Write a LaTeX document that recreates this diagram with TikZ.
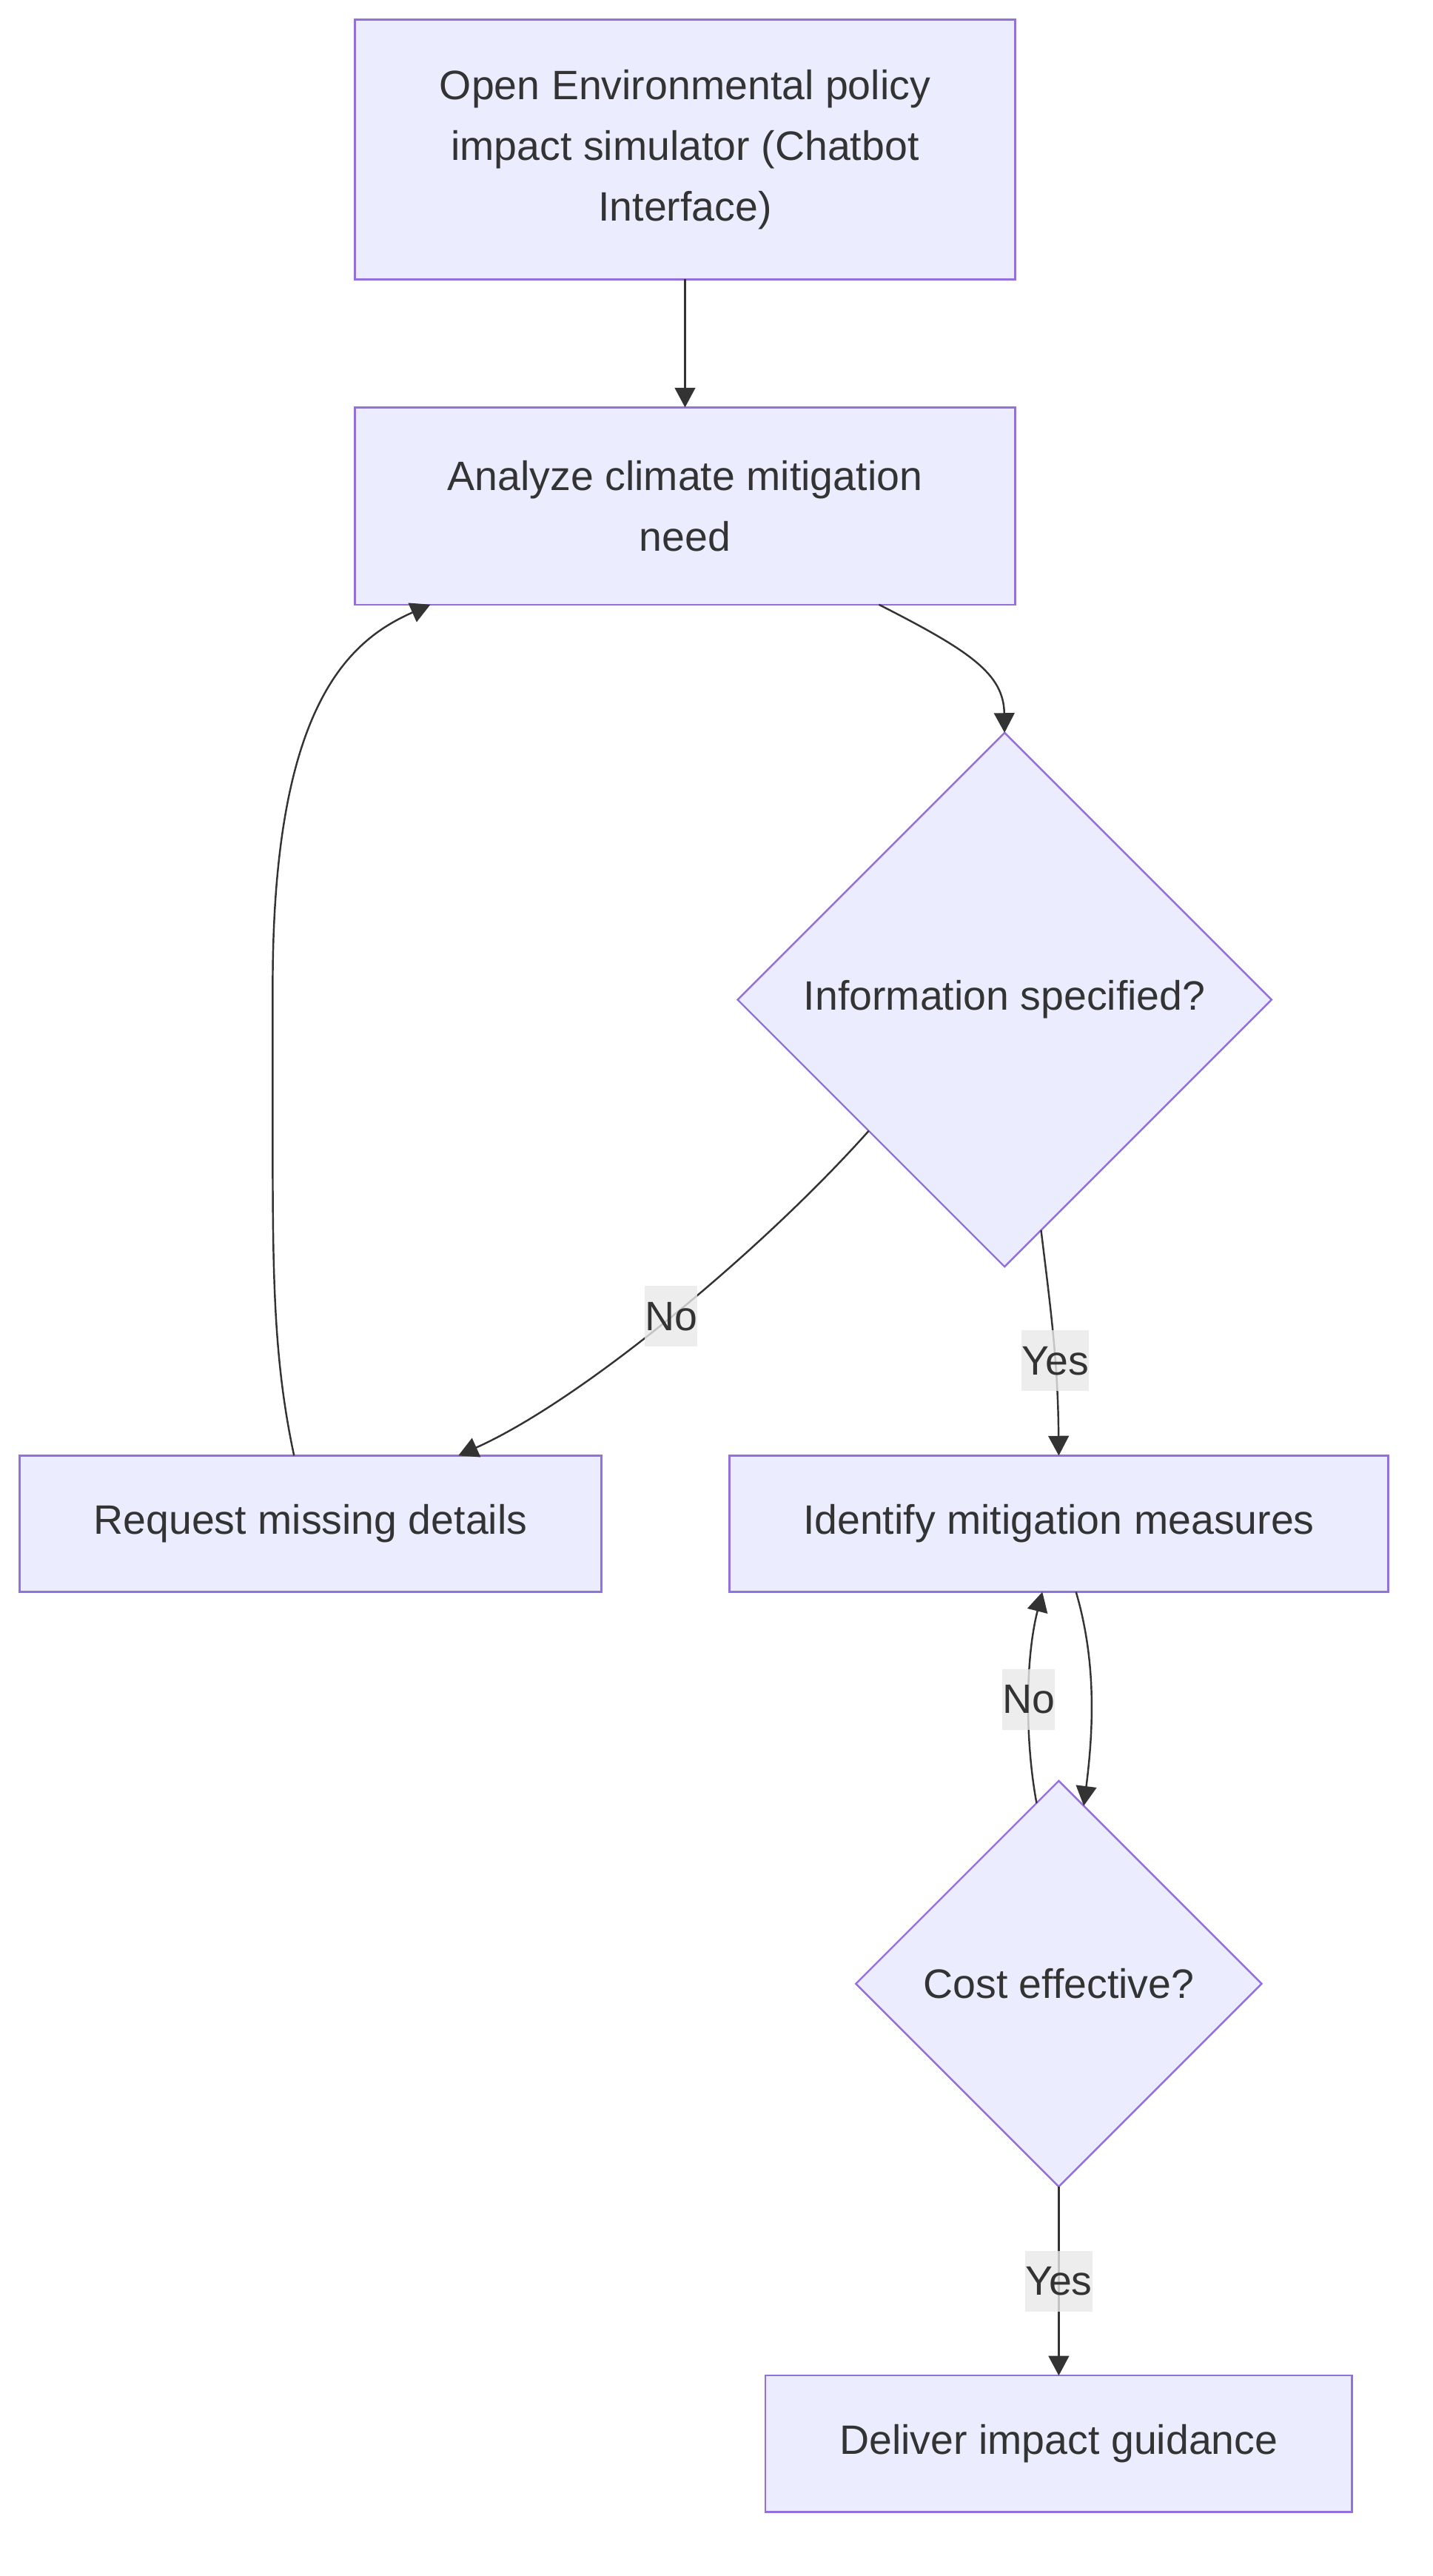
\documentclass[tikz,border=0pt]{standalone}
\usepackage{fontspec}
\setmainfont{Liberation Sans}
\usepackage{tikz}
\usetikzlibrary{shapes.geometric,arrows.meta,positioning}

\definecolor{nodefill}{HTML}{ECECFF}
\definecolor{nodeline}{HTML}{9370DB}
\definecolor{inkgray}{HTML}{333333}
\definecolor{lblgray}{HTML}{E8E8E8}

\begin{document}
\begin{tikzpicture}[
        x=1pt, y=-1pt,
        font=\fontsize{25}{37}\selectfont,
        box/.style={rectangle, draw=nodeline, fill=nodefill, line width=1.1pt, text=inkgray, outer sep=0pt, align=center},
        decision/.style={diamond, shape aspect=1, draw=nodeline, fill=nodefill, line width=1.1pt, text=inkgray, inner sep=0pt, outer sep=0pt},
        lbl/.style={fill=lblgray, fill opacity=0.8, text opacity=1, text=inkgray, inner xsep=0pt, inner ysep=0pt, minimum height=37pt},
        flow/.style={-{Triangle[length=12pt, width=12.5pt]}, draw=inkgray, line width=1.1pt}
    ]
    \useasboundingbox (0,0) rectangle (872,1568);

    % Main column
    \node[box, minimum width=402pt, minimum height=158pt] (start) at (417,91) {Open Environmental policy\\impact simulator (Chatbot\\Interface)};
    \node[box, minimum width=402pt, minimum height=120pt, below=78pt of start] (analyze) {Analyze climate mitigation\\need};

    % Decisions and steps
    \node[decision, minimum width=325pt, minimum height=325pt, below=78pt of analyze, xshift=194.5pt] (info) {Information specified?};
    \node[box, minimum width=401pt, minimum height=83pt, below=115pt of info, xshift=33pt] (identify) {Identify mitigation measures};
    \node[box, minimum width=354pt, minimum height=83pt, left=78pt of identify] (request) {Request missing details};
    \node[decision, minimum width=247pt, minimum height=247pt, below=115pt of identify] (cost) {Cost effective?};
    \node[box, minimum width=357pt, minimum height=83pt, below=115pt of cost] (deliver) {Deliver impact guidance};

    % Connectors
    \draw[flow] (start.south) -- (analyze.north);
    \draw[flow] ([xshift=118pt]analyze.south) .. controls (590,396) and (611,410) .. (info.north);
    \draw[flow] (info.224) .. controls (465,760) and (355,852) .. node[lbl, pos=0.5] (nolbla) {No} ([xshift=90pt]request.north);
    \draw[flow] (info.-81) .. controls (640,800) and (644,830) .. node[lbl, pos=0.6] (yeslbla) {Yes} (identify.north);
    \draw[flow] ([xshift=-10pt]request.north) .. controls (167,830) and (166,780) .. (166,700) -- (166,600)
        .. controls (166,430) and (212,390) .. ([xshift=-155pt]analyze.south);
    \draw[flow] ([xshift=10.5pt]identify.south) .. controls (667,1010) and (666,1050) .. (cost.82);
    \draw[flow] (cost.97) .. controls (624,1060) and (624,1010) .. node[lbl, pos=0.5] (nolblb) {No} ([xshift=-10pt]identify.south);
    \draw[flow] (cost.south) -- node[lbl] (yeslblb) {Yes} (deliver.north);

\end{tikzpicture}
\end{document}
